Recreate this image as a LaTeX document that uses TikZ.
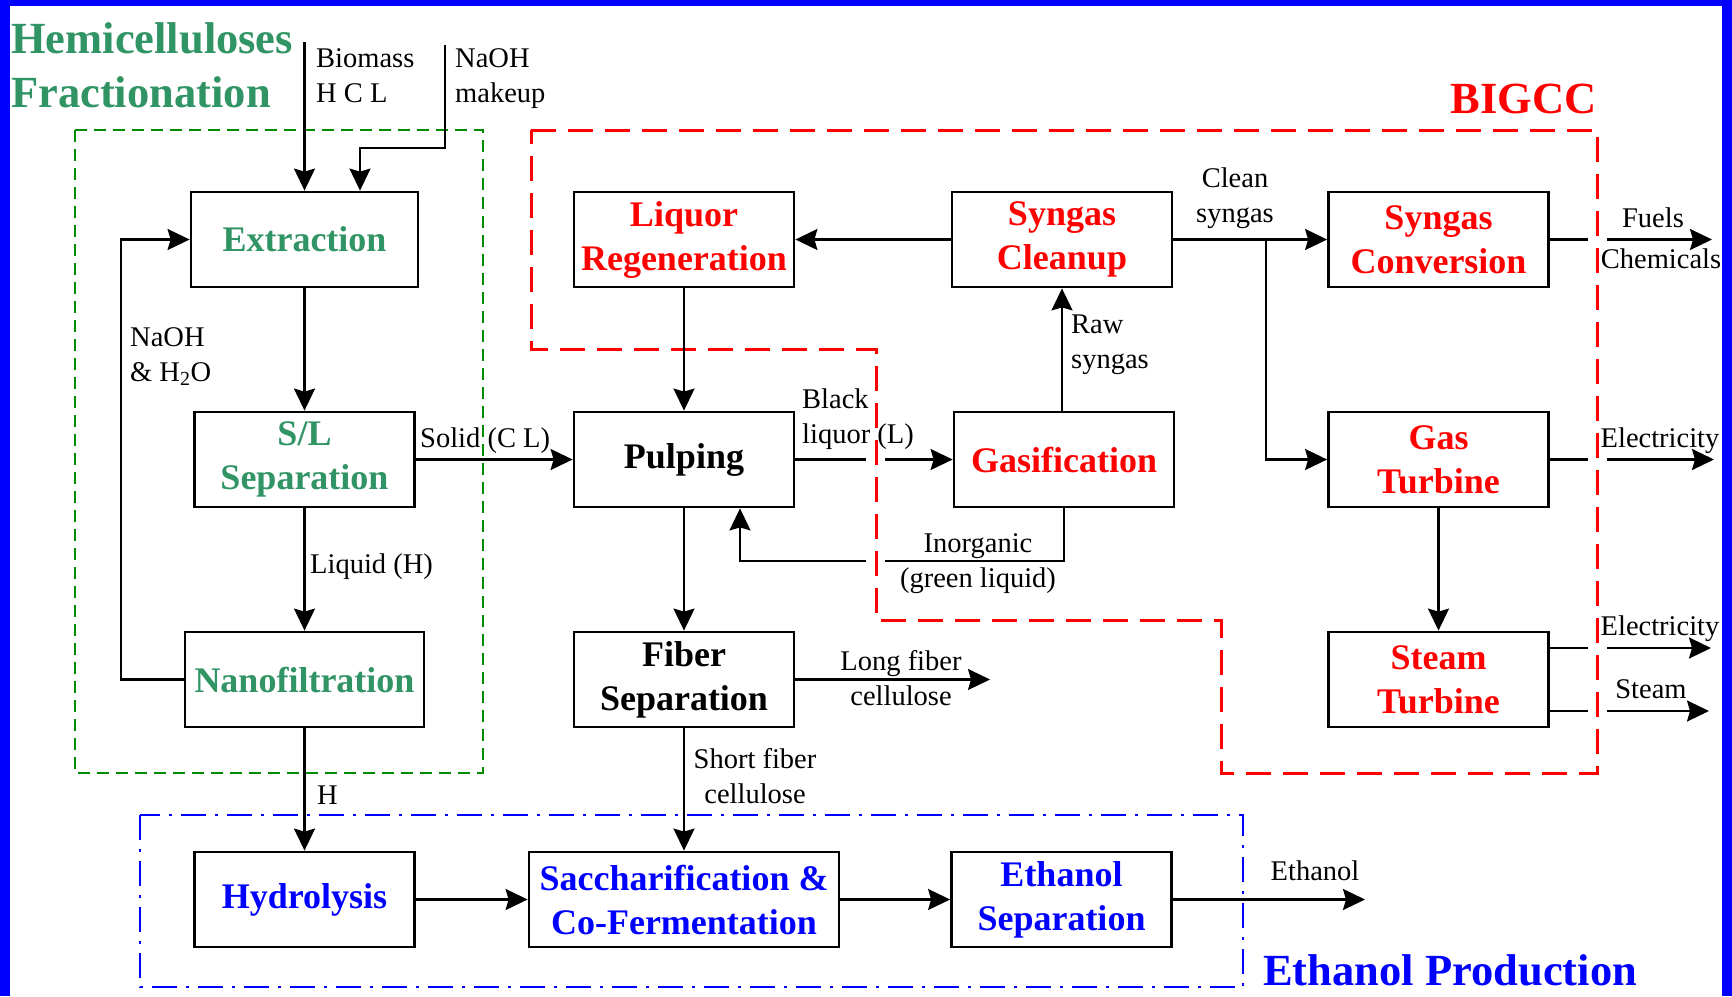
\documentclass[tikz,border=0pt]{standalone}
\usepackage{fontspec}
\setmainfont{Liberation Serif}
\usetikzlibrary{arrows.meta}
\definecolor{tgreen}{RGB}{48,148,100}
\definecolor{dgreen}{RGB}{0,140,0}
\definecolor{fblue}{RGB}{0,0,255}
\newcommand\boxfont{\fontsize{36}{44}\selectfont\bfseries}
\newcommand\lblfont{\fontsize{28.5}{35}\selectfont}
\newcommand\ttlfont{\fontsize{44.5}{54}\selectfont\bfseries}
\begin{document}
\begin{tikzpicture}[x=1pt,y=-1pt,
  box/.style={draw, line width=2.8pt, minimum width=220pt, minimum height=95pt, inner sep=0pt, align=center, font=\boxfont},
  flow/.style={line width=2.2pt, -{Stealth[length=22pt,width=21pt,inset=3pt]}},
  plain/.style={line width=2.2pt},
  lbl/.style={font=\lblfont, inner sep=0pt},
  ttl/.style={font=\ttlfont, inner sep=0pt},
  gdash/.style={draw=dgreen, line width=2.5pt, dash pattern=on 12pt off 7pt},
  rdash/.style={draw=red, line width=3pt, dash pattern=on 25pt off 12pt},
  bdash/.style={draw=fblue, line width=2.5pt, dash pattern=on 25pt off 9pt on 3pt off 9pt}]
\useasboundingbox (0,0) rectangle (1732,996);
\fill[white] (0,0) rectangle (1732,996);

% regions
\draw[gdash] (75,130) rectangle (483,773);
\draw[rdash] (531,130) -- (1597,130) -- (1597,773) -- (1221,773) -- (1221,620) -- (876,620) -- (876,349) -- (531,349) -- cycle;
\draw[bdash] (140,815) rectangle (1243,987);

% titles (anchor=base is the baseline of the last line)
\node[ttl, text=tgreen, anchor=base west, align=left] (t1) at (11,107) {Hemicelluloses\\Fractionation};
\node[ttl, text=red, anchor=base east] (t2) at (1597,113) {BIGCC};
\node[ttl, text=fblue, anchor=base west] (t3) at (1263,985) {Ethanol Production};

% boxes
\node[box, text=tgreen, minimum width=227pt] (ext) at (304.5,239.5) {Extraction};
\node[box, text=tgreen] (sl) at (304.5,459.5) {S/L\\Separation};
\node[box, text=tgreen, minimum width=239pt] (nano) at (304.5,679.5) {Nanofiltration};
\node[box, text=red] (liq) at (684,239.5) {Liquor\\Regeneration};
\node[box] (pulp) at (684,459.5) {Pulping};
\node[box] (fib) at (684,679.5) {Fiber\\Separation};
\node[box, text=red] (clean) at (1062,239.5) {Syngas\\Cleanup};
\node[box, text=red] (gasf) at (1064,459.5) {Gasification};
\node[box, text=red] (conv) at (1438.5,239.5) {Syngas\\Conversion};
\node[box, text=red] (gt) at (1438.5,459.5) {Gas\\Turbine};
\node[box, text=red] (st) at (1438.5,679.5) {Steam\\Turbine};
\node[box, text=fblue] (hyd) at (304.5,899.5) {Hydrolysis};
\node[box, text=fblue, minimum width=310pt] (sac) at (684,899.5) {Saccharification \&\\Co-Fermentation};
\node[box, text=fblue] (eth) at (1061.5,899.5) {Ethanol\\Separation};

% coordinates
\coordinate (bioin) at (304.5,42);
\coordinate (naohin) at (445,45);
\coordinate (naohdrop) at (360,148);
\coordinate (recx) at (121,0);
\coordinate (blA) at (866,459.5);
\coordinate (blB) at (885,459.5);
\coordinate (inA) at (885,561);
\coordinate (inB) at (866,561);
\coordinate (inC) at (740,561);
\coordinate (longout) at (990,679.5);
\coordinate (ethout) at (1365,899.5);
\coordinate (branch) at (1266,239.5);
\coordinate (fA) at (1588,239.5);
\coordinate (fB) at (1607,239.5);
\coordinate (fout) at (1712,239.5);
\coordinate (e1A) at (1588,459.5);
\coordinate (e1B) at (1607,459.5);
\coordinate (e1out) at (1714,459.5);
\coordinate (e2A) at (1588,648);
\coordinate (e2B) at (1607,648);
\coordinate (e2out) at (1711,648);
\coordinate (s3A) at (1588,711);
\coordinate (s3B) at (1607,711);
\coordinate (s3out) at (1709,711);

% connectors
\draw[flow] (bioin) -- (bioin |- ext.north);
\draw[flow] (naohin) |- (naohdrop) -- (naohdrop |- ext.north);
\draw[flow] (nano.west) -| (recx |- ext.west) -- (ext.west);
\draw[flow] (ext.south) -- (sl.north);
\draw[flow] (sl.south) -- (nano.north);
\draw[flow] (nano.south) -- (hyd.north);
\draw[flow] (sl.east) -- (pulp.west);
\draw[flow] (liq.south) -- (pulp.north);
\draw[flow] (clean.west) -- (liq.east);
\draw[flow] (gasf.north -| clean.south) -- (clean.south);
\draw[plain] (pulp.east) -- (blA);
\draw[flow] (blB) -- (gasf.west);
\draw[plain] (gasf.south) |- (inA);
\draw[flow] (inB) -- (inC) -- (inC |- pulp.south);
\draw[flow] (pulp.south) -- (fib.north);
\draw[flow] (fib.east) -- (longout);
\draw[flow] (fib.south) -- (sac.north);
\draw[flow] (hyd.east) -- (sac.west);
\draw[flow] (sac.east) -- (eth.west);
\draw[flow] (eth.east) -- (ethout);
\draw[flow] (clean.east) -- (conv.west);
\draw[flow] (branch) |- (gt.west);
\draw[flow] (gt.south) -- (st.north);
\draw[plain] (conv.east) -- (fA);
\draw[flow] (fB) -- (fout);
\draw[plain] (gt.east) -- (e1A);
\draw[flow] (e1B) -- (e1out);
\draw[plain] (e2A -| st.east) -- (e2A);
\draw[flow] (e2B) -- (e2out);
\draw[plain] (s3A -| st.east) -- (s3A);
\draw[flow] (s3B) -- (s3out);

% labels (multi-line: anchor=base is the last line's baseline)
\node[lbl, anchor=base west, align=left] (lbio) at (316,102) {Biomass\\H C L};
\node[lbl, anchor=base west, align=left] (lnaoh) at (455,102) {NaOH\\makeup};
\node[lbl, anchor=base west, align=left] (lrec) at (130,381) {NaOH\\\& H\textsubscript{2}O};
\node[lbl, anchor=base west] (lliq) at (310,573) {Liquid (H)};
\node[lbl, anchor=base west] (lsol) at (420,447) {Solid (C L)};
\node[lbl, anchor=base west] (lh) at (317,804) {H};
\node[lbl, anchor=base west, align=left] (lblk) at (802,443) {Black\\liquor (L)};
\node[lbl, anchor=base west, align=left] (lraw) at (1071,368) {Raw\\syngas};
\node[lbl, anchor=base, align=center] (lcln) at (1235,222) {Clean\\syngas};
\node[lbl, anchor=base, align=center] (linorg) at (978,587) {Inorganic\\(green liquid)};
\node[lbl, anchor=base, align=center] (llong) at (901,705) {Long fiber\\cellulose};
\node[lbl, anchor=base, align=center] (lshort) at (755,803) {Short fiber\\cellulose};
\node[lbl, anchor=base] (leth) at (1315,880) {Ethanol};
\node[lbl, anchor=base] (lfuel) at (1653,227) {Fuels};
\node[lbl, anchor=base] (lchem) at (1661,268) {Chemicals};
\node[lbl, anchor=base] (lel1) at (1660,447) {Electricity};
\node[lbl, anchor=base] (lel2) at (1660,635) {Electricity};
\node[lbl, anchor=base] (lsteam) at (1651,698) {Steam};

% frame
\fill[fblue] (0,0) rectangle (10,996);
\fill[fblue] (1722,0) rectangle (1732,996);
\fill[fblue] (0,0) rectangle (1732,6);
\end{tikzpicture}
\end{document}
